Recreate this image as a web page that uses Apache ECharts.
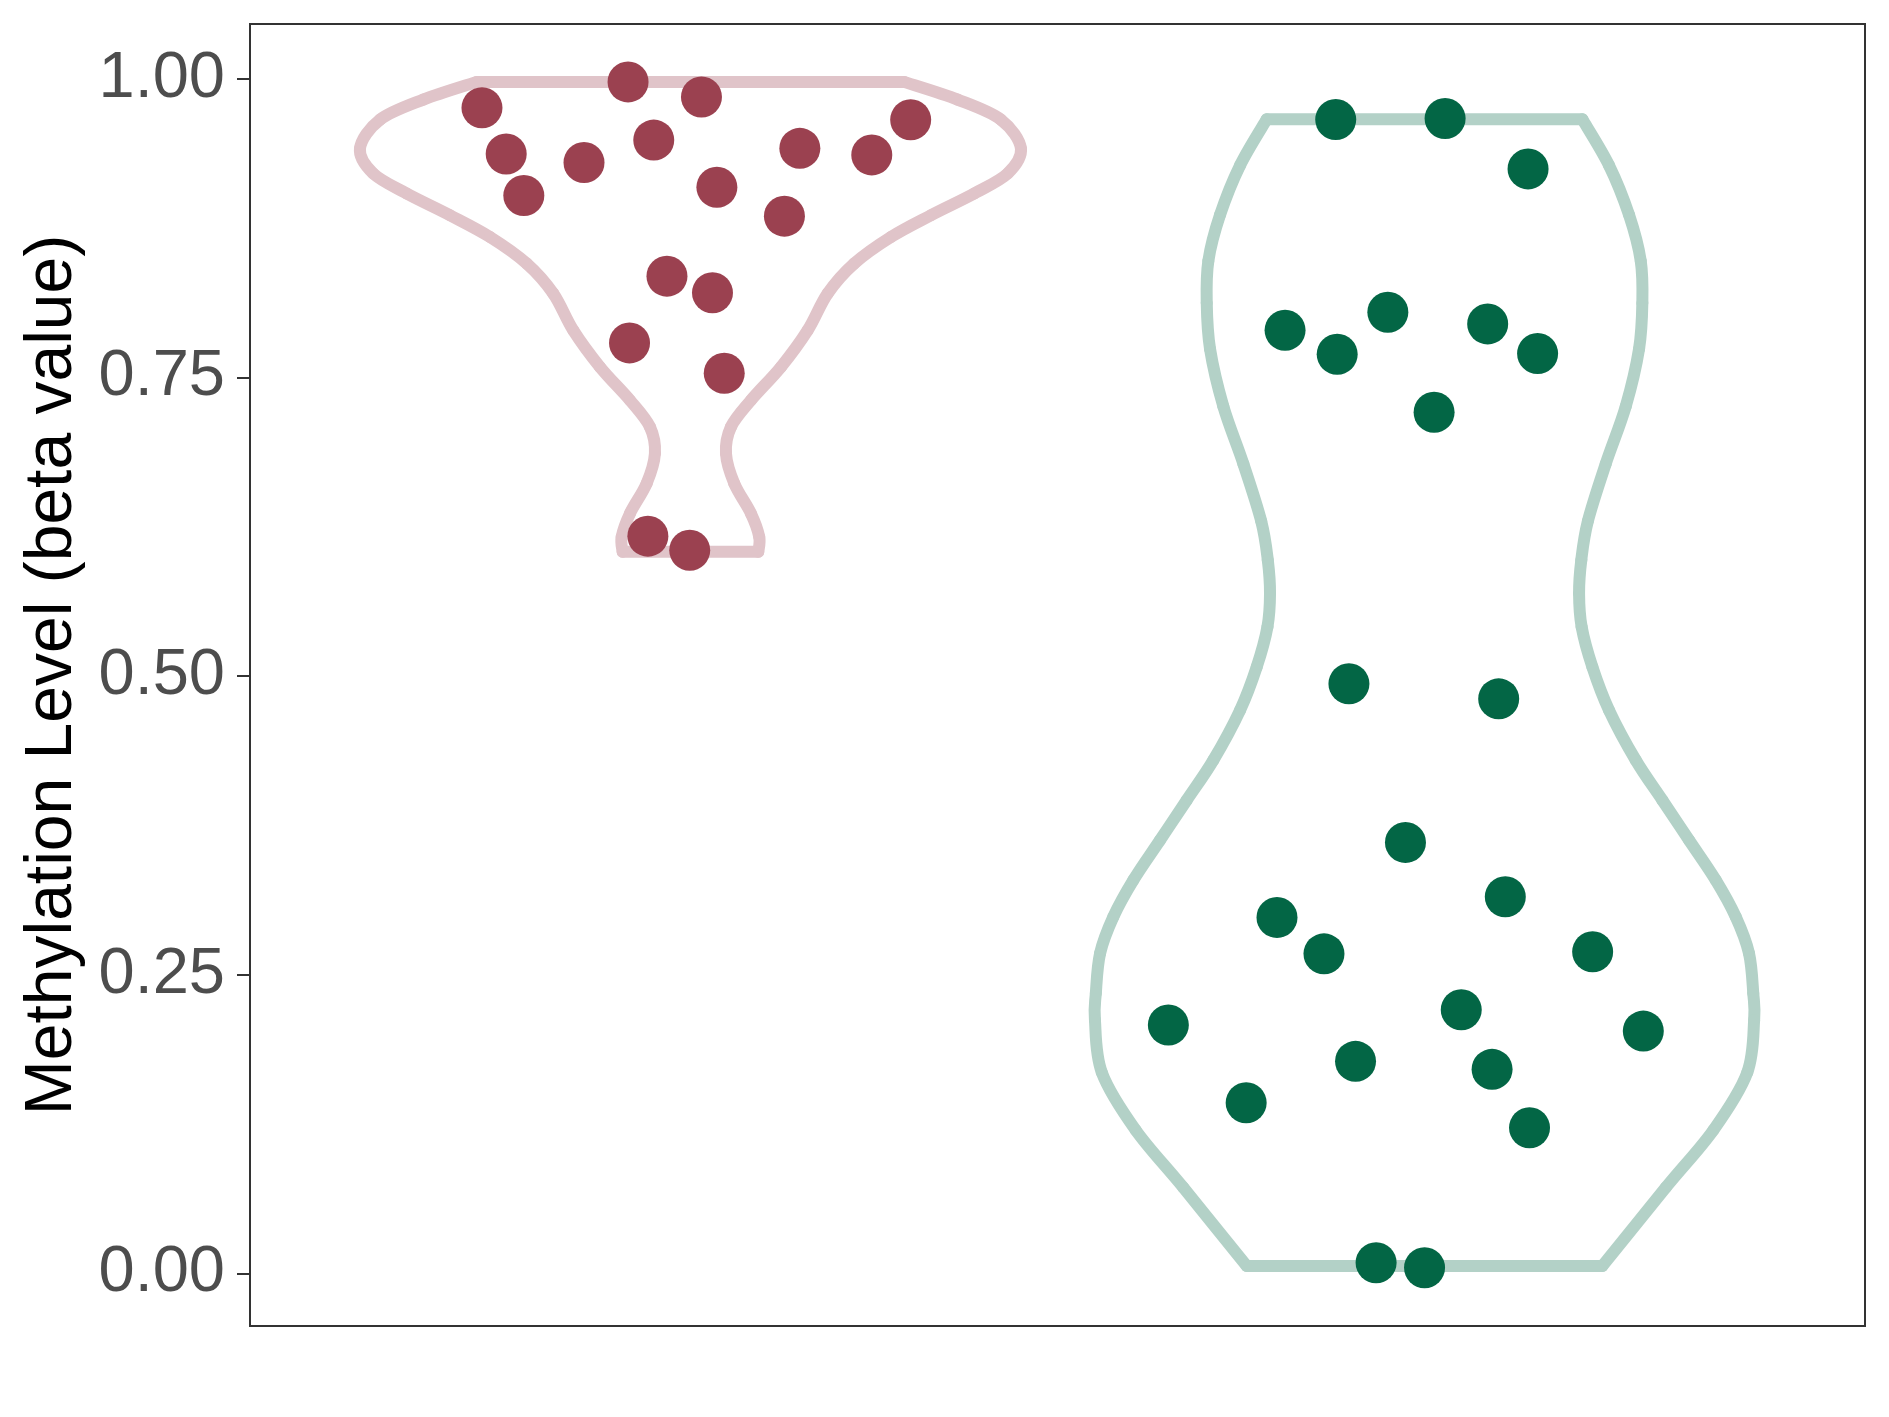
<!DOCTYPE html>
<html>
<head>
<meta charset="utf-8">
<script src="https://cdn.jsdelivr.net/npm/echarts@6/dist/echarts.min.js"></script>
<style>
  html, body { margin: 0; padding: 0; background: #ffffff; }
  #chart { width: 1889px; height: 1417px; }
</style>
</head>
<body>
<div id="chart"></div>
<script>
// ---- data ----
const categoryPos = [1, 2];
const yTicks = [0, 0.25, 0.5, 0.75, 1];
const yTitle = 'Methylation Level (beta value)';

// group 1 (red) points: beta values and horizontal jitter offsets
const redValues = [0.9759, 0.9975, 0.9849, 0.9658, 0.9372, 0.9300, 0.9488, 0.9419, 0.9364,
                   0.9024, 0.9093, 0.8851, 0.8349, 0.8210, 0.7790, 0.7536, 0.6172, 0.6054];
const redJitter = [-0.284, -0.085, 0.015, 0.300, -0.251, -0.145, -0.050, 0.149, 0.247,
                   -0.227, 0.036, 0.128, -0.032, 0.030, -0.083, 0.046, -0.058, -0.001];

// group 2 (green) points
const greenValues = [0.9660, 0.9669, 0.9247, 0.7896, 0.7695, 0.8047, 0.7949, 0.7701, 0.7209,
                     0.4936, 0.4810, 0.3608, 0.3153, 0.2980, 0.2675, 0.2692,
                     0.2079, 0.2207, 0.2028, 0.1775, 0.1708, 0.1428, 0.1219, 0.0089, 0.0047];
const greenJitter = [-0.121, 0.028, 0.141, -0.190, -0.119, -0.050, 0.086, 0.154, 0.013,
                     -0.103, 0.101, -0.026, 0.110, -0.201, -0.137, 0.229,
                     -0.349, 0.050, 0.298, -0.094, 0.092, -0.243, 0.143, -0.066, 0.000];

// violin outlines: level (beta) and half-width (x units)
const redProfileV  = [0.9975, 0.9827, 0.9659, 0.9417, 0.9208, 0.9041, 0.8859, 0.8677, 0.8455, 0.8204,
                      0.7896, 0.7589, 0.7310, 0.7087, 0.6864, 0.6613, 0.6362, 0.6166, 0.6041];
const redProfileHW = [0.2912, 0.3640, 0.4230, 0.4502, 0.4321, 0.3866, 0.3276, 0.2731, 0.2231, 0.1869,
                      0.1597, 0.1233, 0.0824, 0.0552, 0.0484, 0.0597, 0.0824, 0.0937, 0.0924];
const greenProfileV  = [0.9662, 0.9277, 0.8861, 0.8477, 0.8124, 0.7739, 0.7259, 0.6778, 0.6298, 0.5971,
                        0.5692, 0.5413, 0.5078, 0.4715, 0.4297, 0.3962, 0.3627, 0.3292, 0.2985, 0.2679,
                        0.2344, 0.2120, 0.1679, 0.1199, 0.0718, 0.0061];
const greenProfileHW = [0.2150, 0.2513, 0.2786, 0.2945, 0.2967, 0.2922, 0.2741, 0.2468, 0.2225, 0.2135,
                        0.2105, 0.2140, 0.2286, 0.2513, 0.2877, 0.3239, 0.3603, 0.3967, 0.4239, 0.4420,
                        0.4478, 0.4490, 0.4395, 0.3935, 0.3286, 0.2422];

// ---- styling ----
const redDot = '#9B4150', greenDot = '#036645';
const redLine = '#E0C4C9', greenLine = '#B3D1C7';

const violins = [
  { center: categoryPos[0], v: redProfileV, hw: redProfileHW, color: redLine },
  { center: categoryPos[1], v: greenProfileV, hw: greenProfileHW, color: greenLine }
];

// smooth curve through the outline pixel points (Catmull-Rom drawn as bezier segments)
function curveThrough(pts, style) {
  const out = [];
  const n = pts.length;
  for (let i = 0; i < n - 1; i++) {
    const p0 = pts[Math.max(i - 1, 0)], p1 = pts[i], p2 = pts[i + 1], p3 = pts[Math.min(i + 2, n - 1)];
    out.push({
      type: 'bezierCurve',
      shape: {
        x1: p1[0], y1: p1[1], x2: p2[0], y2: p2[1],
        cpx1: p1[0] + (p2[0] - p0[0]) / 6, cpy1: p1[1] + (p2[1] - p0[1]) / 6,
        cpx2: p2[0] - (p3[0] - p1[0]) / 6, cpy2: p2[1] - (p3[1] - p1[1]) / 6
      },
      style: style
    });
  }
  return out;
}

function renderViolin(params, api) {
  const g = violins[params.dataIndex];
  const n = g.v.length;
  const left = g.v.map((v, i) => api.coord([g.center - g.hw[i], v]));
  const right = g.v.map((v, i) => api.coord([g.center + g.hw[i], v]));
  const style = { stroke: g.color, lineWidth: 12, fill: null, lineCap: 'round', lineJoin: 'round' };
  return {
    type: 'group',
    children: curveThrough(left, style).concat(curveThrough(right, style), [
      { type: 'line', shape: { x1: left[0][0], y1: left[0][1], x2: right[0][0], y2: right[0][1] }, style: style },
      { type: 'line', shape: { x1: left[n-1][0], y1: left[n-1][1], x2: right[n-1][0], y2: right[n-1][1] }, style: style }
    ])
  };
}

const chart = echarts.init(document.getElementById('chart'), null, { renderer: 'canvas' });
chart.setOption({
  animation: false,
  backgroundColor: '#ffffff',
  textStyle: { fontFamily: '"Liberation Sans", Arial, Helvetica, sans-serif' },
  grid: {
    left: 250, right: 24, top: 24, bottom: 91,
    show: true, borderColor: '#333333', borderWidth: 2, backgroundColor: 'transparent'
  },
  xAxis: {
    type: 'value', min: 0.4, max: 2.6,
    axisLine: { show: false }, axisTick: { show: false }, axisLabel: { show: false }, splitLine: { show: false }
  },
  yAxis: {
    type: 'value', min: -0.0441, max: 1.046,
    name: yTitle, nameLocation: 'middle', nameRotate: 90, nameGap: 164,
    nameTextStyle: { fontSize: 66, color: '#000000', fontFamily: '"Liberation Sans", Arial, sans-serif' },
    axisLine: { show: false },
    axisTick: { show: true, inside: false, length: 13, customValues: yTicks, lineStyle: { color: '#333333', width: 2 } },
    axisLabel: {
      show: true, customValues: yTicks, margin: 25, fontSize: 65, color: '#4D4D4D',
      fontFamily: '"Liberation Sans", Arial, sans-serif',
      formatter: v => Number(v).toFixed(2)
    },
    splitLine: { show: false }
  },
  series: [
    {
      type: 'custom', renderItem: renderViolin, silent: true, z: 1,
      data: categoryPos.map(c => [c, 0.5])
    },
    {
      type: 'scatter', symbol: 'circle', symbolSize: 41, silent: true, z: 3,
      itemStyle: { color: redDot, opacity: 1 },
      data: redValues.map((v, i) => [categoryPos[0] + redJitter[i], v])
    },
    {
      type: 'scatter', symbol: 'circle', symbolSize: 41, silent: true, z: 3,
      itemStyle: { color: greenDot, opacity: 1 },
      data: greenValues.map((v, i) => [categoryPos[1] + greenJitter[i], v])
    }
  ]
});
</script>
</body>
</html>
